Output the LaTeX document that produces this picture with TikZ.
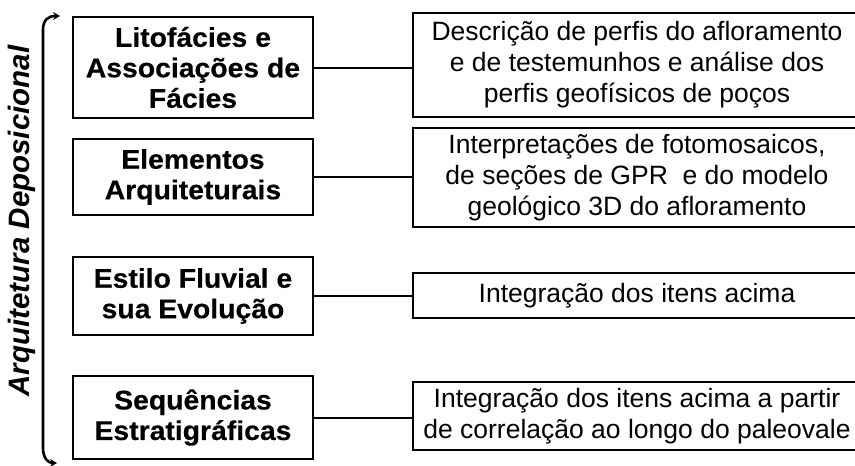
\documentclass[tikz,border=0pt]{standalone}
\usepackage{fontspec}
\setmainfont{Liberation Sans}
\newfontfamily\widesans[FakeStretch=1.05,FakeBold=0.4]{Liberation Sans}
\usetikzlibrary{arrows.meta}
\begin{document}
\begin{tikzpicture}[x=1pt,y=-1pt]
	\tikzstyle{topic}=[draw,line width=2.4pt,minimum width=240pt,inner sep=0pt,align=center,font=\widesans\bfseries\fontsize{27}{30.5}\selectfont]
	\tikzstyle{method}=[draw,line width=2.4pt,minimum width=448pt,inner sep=0pt,align=center,font=\fontsize{26.5}{31}\selectfont]
	\tikzstyle{link}=[line width=2pt]
	\useasboundingbox (0,0) rectangle (855,466);
	\node (title) at (22,221) [rotate=90,font=\bfseries\itshape\fontsize{29.5}{30}\selectfont] {Arquitetura Deposicional};
	% temas
	\node (lito) at (193,67.5) [topic,minimum height=101pt] {Litofácies e\\Associações de\\Fácies};
	\node (elem) at (193,177) [topic,minimum height=76pt] {Elementos\\Arquiteturais};
	\node (estilo) at (193,296) [topic,minimum height=78pt] {Estilo Fluvial e\\sua Evolução};
	\node (seq) at (193,417.5) [topic,minimum height=83pt] {Sequências\\Estratigráficas};
	% metodos
	\node (desc) at (637,65) [method,minimum height=104pt] {Descrição de perfis do afloramento\\e de testemunhos e análise dos\\perfis geofísicos de poços};
	\node (interp) at (637,177.5) [method,minimum height=99pt] {Interpretações de fotomosaicos,\\de seções de GPR~ e do modelo\\geológico 3D do afloramento};
	\node (integ) at (637,295.5) [method,minimum height=45pt] {Integração dos itens acima};
	\node (correl) at (637,416) [method,minimum height=68pt] {Integração dos itens acima a partir\\de correlação ao longo do paleovale};
	\foreach \a/\b in {lito/desc,elem/interp,estilo/integ,seq/correl}
		\draw[link] (\a.east) -- (\a.east -| \b.west);
	% chave
	\coordinate (keytop) at (60,16);
	\coordinate (keybot) at (57,463);
	\draw[line width=2.6pt,{Stealth[length=7pt,width=8pt]}-{Stealth[length=7pt,width=8pt]}] (keytop) .. controls (48,16) and (43,20) .. (43,30) -- (43,448) .. controls (43,458) and (48,463) .. (keybot);
\end{tikzpicture}
\end{document}
